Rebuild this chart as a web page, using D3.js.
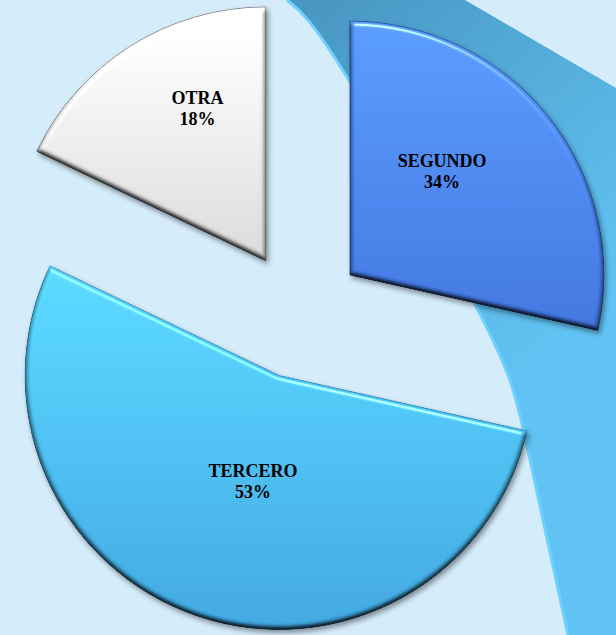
<!DOCTYPE html>
<html>
<head>
<meta charset="utf-8">
<script src="https://cdn.jsdelivr.net/npm/d3@7"></script>
<style>
  html, body { margin: 0; padding: 0; background: #d5ecfb; }
  svg { display: block; }
</style>
</head>
<body>
<script>
// slice data, in drawing order (clockwise from 12 o'clock)
var names = ["SEGUNDO", "TERCERO", "OTRA"];
var shares = [28.5, 53.6, 17.9];          // as drawn (slice angles)
var pctLabels = ["34%", "53%", "18%"];    // label text as printed

var width = 616,
    height = 635;

var svg = d3.select("body").append("svg")
    .attr("width", width)
    .attr("height", height);

var defs = svg.append("defs");

// background band gradient
var bandGrad = defs.append("linearGradient")
    .attr("id", "bandGrad")
    .attr("gradientUnits", "userSpaceOnUse")
    .attr("x1", 290).attr("y1", 0)
    .attr("x2", 580).attr("y2", 320);
bandGrad.append("stop").attr("offset", 0).attr("stop-color", "#4895c0");
bandGrad.append("stop").attr("offset", 1).attr("stop-color", "#61c3f3");

// slice gradients
var color = d3.scaleOrdinal()
    .domain(names)
    .range([["#5699fd", "#3e72dc"], ["#56d6ff", "#3ea4dd"], ["#ffffff", "#d6d6d6"]]);
var edge = d3.scaleOrdinal()
    .domain(names)
    .range(["#2d4fa6", "#2a86b8", "#8a8a8a"]);

names.forEach(function (n, i) {
    var g = defs.append("linearGradient")
        .attr("id", "fill" + i)
        .attr("x1", 0).attr("y1", 0)
        .attr("x2", 0).attr("y2", 1);
    g.append("stop").attr("offset", 0).attr("stop-color", color(n)[0]);
    g.append("stop").attr("offset", 1).attr("stop-color", color(n)[1]);
});

// bevel + drop shadow
var f = defs.append("filter")
    .attr("id", "bevel")
    .attr("x", "-10%").attr("y", "-10%")
    .attr("width", "120%").attr("height", "120%")
    .attr("color-interpolation-filters", "sRGB");
f.append("feGaussianBlur").attr("in", "SourceAlpha").attr("stdDeviation", 2.5).attr("result", "blur");
f.append("feDiffuseLighting")
    .attr("in", "blur").attr("surfaceScale", 4).attr("diffuseConstant", 1.15)
    .attr("lighting-color", "#fff").attr("result", "diff")
  .append("feDistantLight").attr("azimuth", 270).attr("elevation", 60);
f.append("feComposite").attr("in", "SourceGraphic").attr("in2", "diff")
    .attr("operator", "arithmetic").attr("k1", 1).attr("result", "shaded");
f.append("feSpecularLighting")
    .attr("in", "blur").attr("surfaceScale", 4).attr("specularConstant", 0.9)
    .attr("specularExponent", 40).attr("lighting-color", "#fff").attr("result", "spec")
  .append("feDistantLight").attr("azimuth", 270).attr("elevation", 45);
f.append("feComposite").attr("in", "spec").attr("in2", "SourceAlpha")
    .attr("operator", "in").attr("result", "specIn");
f.append("feComposite").attr("in", "shaded").attr("in2", "specIn")
    .attr("operator", "arithmetic").attr("k2", 1).attr("k3", 0.6).attr("result", "lit");
f.append("feComposite").attr("in", "lit").attr("in2", "SourceAlpha")
    .attr("operator", "in").attr("result", "litIn");
f.append("feGaussianBlur").attr("in", "SourceAlpha").attr("stdDeviation", 2.5).attr("result", "sb");
f.append("feOffset").attr("in", "sb").attr("dx", 2).attr("dy", 3).attr("result", "so");
f.append("feFlood").attr("flood-color", "#000").attr("flood-opacity", 0.4);
f.append("feComposite").attr("in2", "so").attr("operator", "in").attr("result", "shadow");
var fm = f.append("feMerge");
fm.append("feMergeNode").attr("in", "shadow");
fm.append("feMergeNode").attr("in", "litIn");

// background
svg.append("rect")
    .attr("width", width)
    .attr("height", height)
    .attr("fill", "#d5ecfb");

// theme band (decoration behind the pie)
var bandEdge = [[287, 0], [347, 77], [477, 308], [525, 437], [568, height]];
var edgeLine = d3.line().curve(d3.curveNatural);
var bandPath = edgeLine(bandEdge) +
    "L" + width + "," + height +
    "L" + width + ",88L465,0Z";
svg.append("path")
    .attr("d", bandPath)
    .attr("fill", "url(#bandGrad)");
svg.append("path")
    .attr("d", edgeLine(bandEdge))
    .attr("fill", "none")
    .attr("stroke", "#6dd1ff")
    .attr("stroke-width", 3);

// pie
var cx = 300,
    cy = 315,
    radius = 254,
    explode = 64;

var data = names.map(function (n, i) {
    return { name: n, value: shares[i], label: pctLabels[i], i: i };
});

var pie = d3.pie()
    .sort(null)
    .value(function (d) { return d.value; })
    .startAngle(0)
    .endAngle(2 * Math.PI);

var arc = d3.arc()
    .innerRadius(0)
    .outerRadius(radius);

var arcs = pie(data);

function offset(d) {
    var mid = (d.startAngle + d.endAngle) / 2;
    return [cx + explode * Math.sin(mid), cy - explode * Math.cos(mid)];
}

var slices = svg.append("g")
    .selectAll("g")
    .data(arcs)
    .join("g")
    .attr("transform", function (d) { return "translate(" + offset(d) + ")"; });

slices.append("path")
    .attr("d", arc)
    .attr("fill", function (d) { return "url(#fill" + d.data.i + ")"; })
    .attr("stroke", function (d) { return edge(d.data.name); })
    .attr("stroke-width", 1)
    .attr("filter", "url(#bevel)");

// labels near the area centroid of each sector (pulled a bit toward the vertical)
var labels = svg.append("g")
    .attr("font-family", "'Times New Roman', 'Liberation Serif', serif")
    .attr("font-weight", "bold")
    .attr("font-size", "18px")
    .attr("fill", "#000")
    .attr("text-anchor", "middle")
    .selectAll("text")
    .data(arcs)
    .join("text")
    .attr("transform", function (d) {
        var a = (d.endAngle - d.startAngle) / 2,
            mid = d.startAngle + a,
            dist = 2 * radius * Math.sin(a) / (3 * a),
            o = offset(d);
        var x = o[0] + 0.8 * dist * Math.sin(mid),
            y = o[1] - 1.12 * dist * Math.cos(mid);
        return "translate(" + x + "," + y + ") scale(1,1.1)";
    });

labels.append("tspan")
    .attr("x", 0)
    .attr("y", -4)
    .text(function (d) { return d.data.name; });
labels.append("tspan")
    .attr("x", 0)
    .attr("y", 15)
    .text(function (d) { return d.data.label; });
</script>
</body>
</html>
